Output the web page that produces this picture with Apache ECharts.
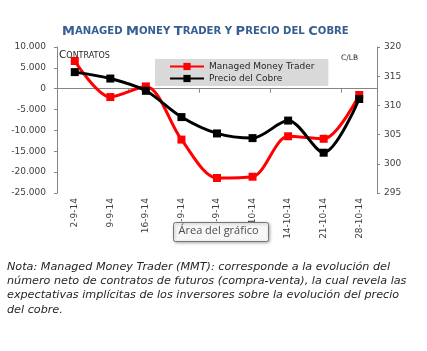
<!DOCTYPE html>
<html>
<head>
<meta charset="utf-8">
<script src="https://cdn.jsdelivr.net/npm/echarts@6/dist/echarts.min.js"></script>
<style>
    html, body { margin: 0; padding: 0; background: #fff; }
    #grafico { width: 427px; height: 351px; }
</style>
</head>
<body>
<div id="grafico"></div>
<script>
/*datos start*/
let fechas = ['2-9-14', '9-9-14', '16-9-14', '23-9-14', '30-9-14', '7-10-14', '14-10-14', '21-10-14', '28-10-14']
// contratos netos MMT (eje izquierdo)
let mmt = [6650, -2000, 550, -12200, -21400, -21100, -11400, -12000, -1500]
// precio del cobre c/lb (eje derecho)
let cobre = [315.7, 314.6, 312.5, 308.0, 305.2, 304.4, 307.4, 301.9, 311.1]
let ticksIzq = [-25000, 10000, 5000]
let ticksDer = [295, 320, 5]
/*datos end*/

let fuente = 'DejaVu Sans'
let gris = '#868686'

// separador de miles con punto
function miles(v) {
    let s = Math.abs(v).toString().replace(/\B(?=(\d{3})+(?!\d))/g, '.')
    return (v < 0 ? '-' : '') + s
}

let chart = echarts.init(document.getElementById('grafico'))

let option = {
    animation: false,
    backgroundColor: '#fff',
    grid: {left: 57, right: 50, top: 47, bottom: 158},
    legend: {
        orient: 'vertical',
        left: 155,
        top: 59,
        padding: [3, 14, 3, 14],
        itemGap: 3,
        itemWidth: 34,
        itemHeight: 9,
        backgroundColor: '#d9d9d9',
        textStyle: {fontFamily: fuente, fontSize: 9, color: '#262626'},
        data: ['Managed Money Trader', 'Precio del Cobre']
    },
    xAxis: [
        {
            // etiquetas abajo
            type: 'category',
            data: fechas,
            position: 'bottom',
            axisLine: {show: false, onZero: false},
            axisTick: {show: false},
            axisLabel: {rotate: 90, margin: 5, fontFamily: fuente, fontSize: 9, color: '#404040'}
        },
        {
            // linea del cero
            type: 'category',
            data: fechas,
            position: 'bottom',
            axisLine: {show: true, onZero: true, onZeroAxisIndex: 0, lineStyle: {color: gris}},
            axisTick: {show: true, length: 4, lineStyle: {color: gris}},
            axisLabel: {show: false}
        }
    ],
    yAxis: [
        {
            type: 'value',
            min: ticksIzq[0], max: ticksIzq[1], interval: ticksIzq[2],
            splitLine: {show: false},
            axisLine: {show: true, lineStyle: {color: gris}},
            axisTick: {show: true, length: 3, lineStyle: {color: gris}},
            axisLabel: {margin: 11, fontFamily: fuente, fontSize: 9, color: '#404040', formatter: miles}
        },
        {
            type: 'value',
            min: ticksDer[0], max: ticksDer[1], interval: ticksDer[2],
            splitLine: {show: false},
            axisLine: {show: true, lineStyle: {color: gris}},
            axisTick: {show: true, length: 3, lineStyle: {color: gris}},
            axisLabel: {margin: 7, fontFamily: fuente, fontSize: 9, color: '#404040'}
        }
    ],
    series: [
        {
            name: 'Managed Money Trader',
            type: 'line',
            yAxisIndex: 0,
            data: mmt,
            smooth: 0.3,
            symbol: 'rect',
            symbolSize: 8,
            lineStyle: {color: '#ff0000', width: 3},
            itemStyle: {color: '#ff0000'}
        },
        {
            name: 'Precio del Cobre',
            type: 'line',
            yAxisIndex: 1,
            data: cobre,
            smooth: 0.3,
            symbol: 'rect',
            symbolSize: 8,
            lineStyle: {color: '#000', width: 3},
            itemStyle: {color: '#000'}
        }
    ],
    graphic: [
        {
            type: 'text', left: 62, top: 25,
            style: {
                text: '{g|M}{p|ANAGED }{g|M}{p|ONEY }{g|T}{p|RADER Y }{g|P}{p|RECIO DEL }{g|C}{p|OBRE}',
                rich: {
                    g: {fontFamily: fuente, fontWeight: 'bold', fontSize: 13, fill: '#365f91'},
                    p: {fontFamily: fuente, fontWeight: 'bold', fontSize: 10.1, fill: '#365f91'}
                }
            }
        },
        {
            type: 'text', left: 59, top: 50,
            style: {
                text: '{g|C}{p|ONTRATOS}',
                rich: {
                    g: {fontFamily: fuente, fontSize: 10.5, fill: '#262626'},
                    p: {fontFamily: fuente, fontSize: 8, fill: '#262626'}
                }
            }
        },
        {
            type: 'text', left: 341, top: 54,
            style: {text: 'C/LB', fontFamily: fuente, fontSize: 7.5, fill: '#262626'}
        },
        {
            // cuadro "Área del gráfico"
            type: 'group', left: 173, top: 222, z: 100,
            children: [
                {
                    type: 'rect', z: 100,
                    shape: {x: 0, y: 0, width: 95, height: 19, r: 2},
                    style: {fill: '#f7f7f7', stroke: '#767676', lineWidth: 1, shadowBlur: 3, shadowOffsetX: 1, shadowOffsetY: 1, shadowColor: 'rgba(0,0,0,0.3)'}
                },
                {
                    type: 'text', x: 5, y: 3, z: 101,
                    style: {text: 'Área del gráfico', fontFamily: 'Open Sans', fontSize: 11, fill: '#4c4c4c'}
                }
            ]
        },
        {
            type: 'text', left: 7, top: 260,
            style: {
                text: 'Nota: Managed Money Trader (MMT): corresponde a la evolución del\n' +
                    'número neto de contratos de futuros (compra-venta), la cual revela las\n' +
                    'expectativas implícitas de los inversores sobre la evolución del precio\n' +
                    'del cobre.',
                fontFamily: fuente, fontStyle: 'italic', fontSize: 11.2, lineHeight: 14.2, fill: '#262626'
            }
        }
    ]
}

chart.setOption(option)
</script>
</body>
</html>
